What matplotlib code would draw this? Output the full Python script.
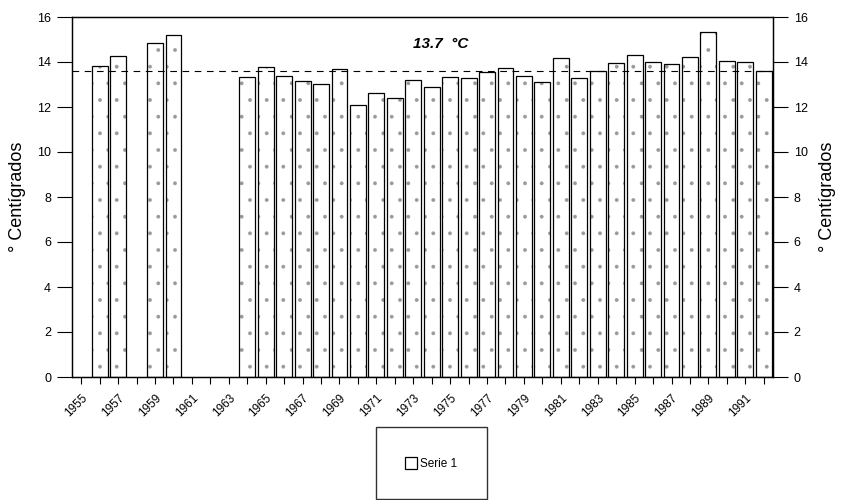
import matplotlib
matplotlib.use("Agg")
import matplotlib.pyplot as plt

plt.rcParams["font.family"] = ["Liberation Sans", "DejaVu Sans"]
plt.rcParams["hatch.linewidth"] = 0.3

# Annual mean temperature (degrees C), years without data left out
years = [1956, 1957, 1959, 1960,
         1964, 1965, 1966, 1967, 1968, 1969, 1970, 1971, 1972, 1973,
         1974, 1975, 1976, 1977, 1978, 1979, 1980, 1981, 1982, 1983,
         1984, 1985, 1986, 1987, 1988, 1989, 1990, 1991, 1992]
temps = [13.81, 14.27, 14.83, 15.21,
         13.32, 13.79, 13.39, 13.16, 13.01, 13.70, 12.10, 12.61, 12.41, 13.22,
         12.88, 13.35, 13.28, 13.57, 13.72, 13.38, 13.12, 14.16, 13.28, 13.61,
         13.94, 14.31, 14.01, 13.90, 14.24, 15.32, 14.06, 13.99, 13.61]

all_years = list(range(1955, 1993))
label_years = list(range(1955, 1992, 2))
y_ticks = [0, 2, 4, 6, 8, 10, 12, 14, 16]
mean_line = 13.6
mean_text = "13.7  °C"
series_name = "Serie 1"


def draw_chart(out_file):
    fig = plt.figure(figsize=(8.42, 5.0), dpi=100)
    ax = fig.add_axes([0.0855, 0.246, 0.8325, 0.72])

    # stipple first (grey dots), then the black outlines on top
    ax.bar(years, temps, width=0.86, color="white", edgecolor="0.6",
           linewidth=0, hatch=".", zorder=2)
    ax.bar(years, temps, width=0.86, fill=False, edgecolor="black",
           linewidth=0.9, label=series_name, zorder=2.5)
    ax.axhline(mean_line, color="black", linestyle=(0, (6, 5)),
               linewidth=0.8, zorder=3)
    ax.text(1974.5, 14.8, mean_text, fontsize=11, fontweight="bold",
            fontstyle="italic", ha="center", va="center")

    ax.set_xlim(1954.5, 1992.5)
    ax.set_ylim(0, 16)

    ax.set_xticks(all_years)
    ax.set_xticklabels([str(y) if y in label_years else "" for y in all_years],
                       rotation=45, ha="right", rotation_mode="anchor",
                       fontsize=8.5)
    ax.tick_params(axis="x", direction="out", length=5, width=0.8, pad=6)

    right = ax.twinx()
    for axis in (ax, right):
        axis.set_ylim(0, 16)
        axis.set_yticks(y_ticks)
        axis.tick_params(axis="y", direction="out", length=11, width=0.8,
                         labelsize=9, pad=4)
        for spine in axis.spines.values():
            spine.set_linewidth(0.9)
    ax.set_ylabel("° Centígrados", fontsize=13, labelpad=8)
    right.set_ylabel("° Centígrados", fontsize=13, labelpad=8)

    fig.legend(loc="upper left", bbox_to_anchor=(0.446, 0.146),
               frameon=True, fancybox=False, edgecolor="black",
               fontsize=8.5, handlelength=1.0, handleheight=1.3,
               borderpad=2.5, handletextpad=0.3,
               borderaxespad=0.0)

    fig.savefig(out_file, dpi=100)
    plt.close(fig)


draw_chart("out.png")
